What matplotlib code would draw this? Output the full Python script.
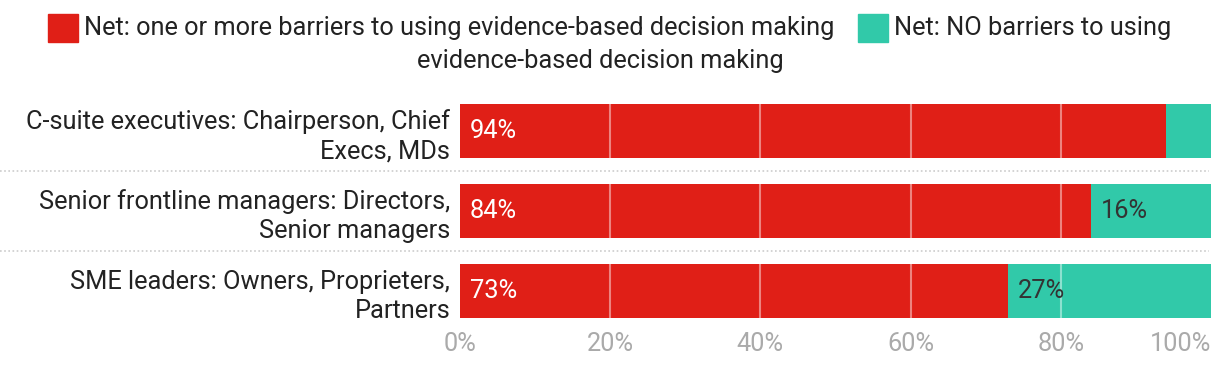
import matplotlib
matplotlib.use("Agg")
import matplotlib.pyplot as plt
from matplotlib.patches import Rectangle
from matplotlib.lines import Line2D

categories = ["C-suite executives: Chairperson, Chief\nExecs, MDs",
              "Senior frontline managers: Directors,\nSenior managers",
              "SME leaders: Owners, Proprieters,\nPartners"]
barriers = [94, 84, 73]
no_barriers = [6, 16, 27]
series_names = ["Net: one or more barriers to using evidence-based decision making",
                "Net: NO barriers to using", "evidence-based decision making"]
xticks = [0, 20, 40, 60, 80, 100]
xticklabels = ["0%", "20%", "40%", "60%", "80%", "100%"]

RED = "#E01F17"
TEAL = "#31C9A9"
FONT = "Roboto"
plt.rcParams["font.family"] = [FONT, "DejaVu Sans"]
FS = 18.3

W, H = 1220, 366
fig = plt.figure(figsize=(W / 100, H / 100), dpi=100)
ax = fig.add_axes([460 / W, 1 - 331 / H, (1211 - 460) / W, 240 / H])

y = list(range(len(categories)))
ax.barh(y, barriers, height=0.675, color=RED, zorder=2)
ax.barh(y, no_barriers, left=barriers, height=0.675, color=TEAL, zorder=2)
ax.set_xlim(0, 100)
ax.set_ylim(2.5, -0.5)

for gx in [20, 40, 60, 80]:
    ax.axvline(gx, color="white", lw=1.5, alpha=0.45, zorder=3)

for i in y:
    ax.text(1.3, i, f"{barriers[i]}%", color="white", fontsize=FS, va="center", ha="left", zorder=4)
    if no_barriers[i] >= 10:
        ax.text(barriers[i] + 1.3, i, f"{no_barriers[i]}%", color="#333333", fontsize=FS,
                va="center", ha="left", zorder=4)

ax.set_yticks(y)
ax.set_yticklabels(categories, fontsize=FS, color="#222222", linespacing=1.28)
ax.set_xticks(xticks)
ax.set_xticklabels(xticklabels, fontsize=FS, color="#AAAAAA")
ax.get_xticklabels()[-1].set_horizontalalignment("right")
ax.tick_params(length=0)
ax.tick_params(axis="y", pad=7)
ax.tick_params(axis="x", pad=1)
for s in ax.spines.values():
    s.set_visible(False)

# dotted separators
for yy in [171, 251]:
    fig.add_artist(Line2D([0, 1209 / W], [1 - yy / H, 1 - yy / H], transform=fig.transFigure,
                          color="#CCCCCC", lw=1.2, ls=(0, (1, 1.5))))

# legend
fig.add_artist(Rectangle((48 / W, 1 - 42 / H), 30 / W, 28 / H, transform=fig.transFigure, color=RED))
fig.text(84 / W, 1 - 28 / H, series_names[0], fontsize=FS, va="center", ha="left", color="#222222")
fig.add_artist(Rectangle((858 / W, 1 - 42 / H), 30 / W, 28 / H, transform=fig.transFigure, color=TEAL))
fig.text(894 / W, 1 - 28 / H, series_names[1], fontsize=FS, va="center", ha="left", color="#222222")
fig.text(600 / W, 1 - 61 / H, series_names[2], fontsize=FS, va="center", ha="center", color="#222222")

fig.savefig("out.png", dpi=100)
